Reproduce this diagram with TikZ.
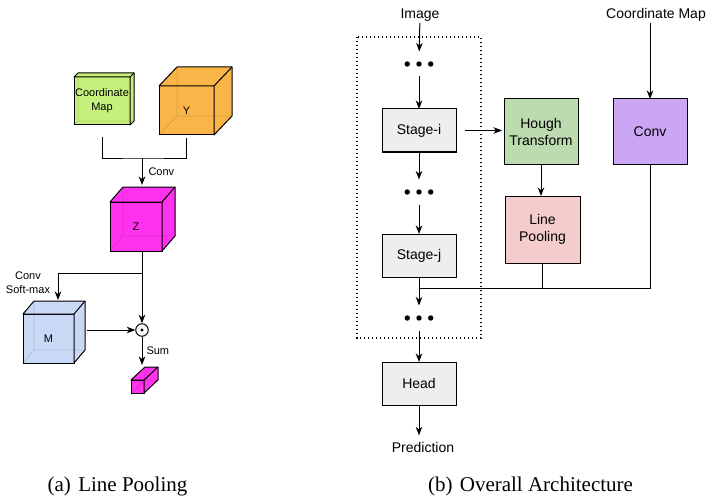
\documentclass[tikz,border=0pt]{standalone}
\usepackage{fontspec}
\setmainfont{Liberation Sans}
\newfontfamily\captionfont{Liberation Serif}
\usetikzlibrary{arrows.meta}

\definecolor{cmapgreen}{RGB}{198,240,124}
\definecolor{yorange}{RGB}{249,181,72}
\definecolor{zmagenta}{RGB}{255,51,238}
\definecolor{mblue}{RGB}{201,216,245}
\definecolor{stagegray}{RGB}{238,238,238}
\definecolor{houghgreen}{RGB}{188,220,176}
\definecolor{poolpink}{RGB}{244,204,204}
\definecolor{convpurple}{RGB}{203,166,244}

% top and right faces of a tensor box, drawn behind its front node
\newcommand{\boxfaces}[4]{%
  \filldraw[fill=#4, line width=1pt, line join=round]
    (#1.north west) -- ++(#2,-#3) -- ([shift={(#2,-#3)}]#1.north east)
    -- ([shift={(#2,-#3)}]#1.south east) -- (#1.south east) -- (#1.north east) -- cycle;
  \draw[line width=1pt] (#1.north east) -- ++(#2,-#3);
  \draw[black, opacity=0.12, line width=0.8pt]
    ([shift={(#2,-#3)}]#1.south west) -- (#1.south west)
    ([shift={(#2,-#3)}]#1.south west) -- ([shift={(#2,-#3)}]#1.north west)
    ([shift={(#2,-#3)}]#1.south west) -- ([shift={(#2,-#3)}]#1.south east);
}

\begin{document}
\begin{tikzpicture}[x=1pt, y=-1pt, >={Stealth[length=8.5pt, width=6.5pt, inset=2.5pt]}, line width=1pt]
\tikzset{cube/.style={draw, line width=1pt, outer sep=0pt, inner sep=0pt, align=center, font=\fontsize{11}{14}\selectfont}}
\tikzset{block/.style={draw, line width=1pt, outer sep=0pt, minimum width=74, minimum height=43, align=center, font=\fontsize{14}{17}\selectfont}}
\tikzset{lbl/.style={font=\fontsize{14}{17}\selectfont, inner sep=1pt}}
\tikzset{small lbl/.style={font=\fontsize{11}{14}\selectfont, inner sep=1pt, align=center}}
\tikzset{dots/.style={minimum width=30, minimum height=24, inner sep=0pt}}
\tikzset{subcap/.style={font=\captionfont\fontsize{21}{24}\selectfont, anchor=base, inner sep=0pt}}

\useasboundingbox (0,0) rectangle (708,497);

% (a) line pooling
\node[cube, fill=cmapgreen, minimum width=56, minimum height=48] (cmap) at (102,101) {Coordinate\\Map};
\boxfaces{cmap}{4}{4}{cmapgreen}
\node[cube, fill=yorange, minimum width=55, minimum height=49] (ycube) at (186.5,110.5) {Y};
\boxfaces{ycube}{18}{19}{yorange}

\coordinate (merge) at (142,158);
\coordinate (zin) at (142,185);
\draw ([yshift=-12pt]cmap.south) |- (merge) -| ([yshift=-3pt]ycube.south);
\draw[->] (merge) -- node[small lbl, right=5pt] {Conv} (zin);

\node[cube, fill=zmagenta, minimum width=52, minimum height=49] (zcube) at (136,226.5) {Z};
\boxfaces{zcube}{13}{15}{zmagenta}

\node[cube, fill=mblue, minimum width=51, minimum height=49] (mcube) at (48.5,338.5) {M};
\boxfaces{mcube}{11}{13}{mblue}

\node[draw, circle, minimum size=12.5, inner sep=0pt,
  path picture={\fill (path picture bounding box.center) circle (1.7);}] (dot) at (142,330) {};

\coordinate (split) at (142,273);
\coordinate (min) at (58,300);
\coordinate (sumend) at (142,365);
\draw (zcube.south -| split) -- (split);
\draw[->] (split) -| (min);
\node[small lbl] (convsm) at (28,283) {Conv\\Soft-max};
\draw[->] (split) -- (dot);
\draw[->] ([xshift=13pt]mcube.east |- dot) -- (dot);
\draw[->] (dot) -- node[small lbl, right=3pt] {Sum} (sumend);

\node[cube, fill=zmagenta, minimum width=13, minimum height=13] (outcube) at (137.5,386.5) {};
\boxfaces{outcube}{14}{13}{zmagenta}

% (b) overall architecture
\draw[line width=1.3pt, dash pattern=on 1.2pt off 2.8pt] (357,37) rectangle (481,338);

\node[lbl] (image) at (420,15) {Image};
\node[dots] (dots1) at (419,64) {};
\node[block, fill=stagegray] (stagei) at (419,130.5) {Stage-i};
\node[dots] (dots2) at (419,192) {};
\node[block, fill=stagegray] (stagej) at (419,255.5) {Stage-j};
\node[dots] (dots3) at (419,318) {};
\node[block, fill=stagegray] (head) at (419,383.5) {Head};
\node[lbl] (pred) at (423,447) {Prediction};
\foreach \d in {dots1,dots2,dots3}
  \foreach \s in {-11.7,0,11.7}
    \fill ([xshift=\s pt]\d) circle (2.7);

\node[block, fill=houghgreen, minimum height=65] (hough) at (541,131.5) {Hough\\Transform};
\node[block, fill=poolpink, minimum width=75, minimum height=67] (pool) at (542.5,229.5) {Line\\Pooling};
\node[block, fill=convpurple, minimum height=65] (conv) at (650,131.5) {Conv};
\node[lbl] (cmaplbl) at (656,15) {Coordinate Map};

\draw[->] (image) -- (dots1);
\draw[->] (dots1) -- (stagei);
\draw[->] (stagei) -- (dots2);
\draw[->] (dots2) -- (stagej);
\draw[->] (stagej) -- (dots3);
\draw[->] (dots3) -- (head);
\draw[->, shorten >=5pt] (head.south) -- (head.south |- pred.north);

\draw[->, shorten <=9pt, shorten >=2pt] (stagei.east) -- (stagei.east -| hough.west);
\draw[->] (hough.south) -- (hough.south |- pool.north);
\draw[->] (conv.north |- cmaplbl.south) -- (conv.north);

\coordinate (join) at (419,288);
\draw (conv.south) |- (join);
\draw (pool.south) -- (pool.south |- join);

% captions
\node[subcap] (capa) at (117.5,491) {(a)\hspace{0.35em}Line Pooling};
\node[subcap] (capb) at (530.5,491) {(b)\hspace{0.35em}Overall Architecture};
\end{tikzpicture}
\end{document}
